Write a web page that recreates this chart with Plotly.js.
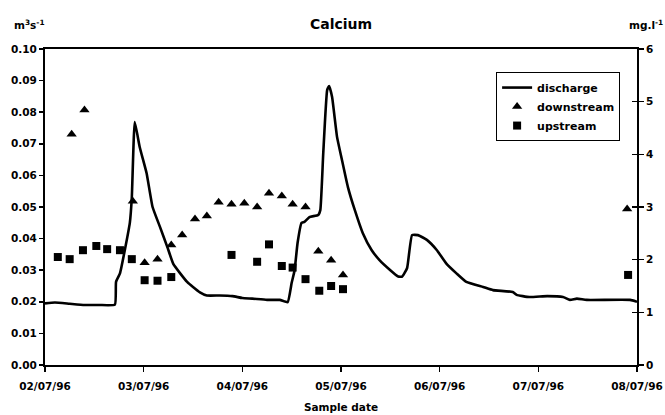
<!DOCTYPE html>
<html>
<head>
<meta charset="utf-8">
<script src="https://cdn.plot.ly/plotly-3.0.1.min.js"></script>
<style>html,body{margin:0;padding:0;background:#fff;}#chart{width:665px;height:415px;}</style>
</head>
<body>
<div id="chart"></div>
<script>
// Discharge (m3/s), left axis
const dischargeTime = [
  '1996-07-02 00:00','1996-07-02 02:24','1996-07-02 06:00','1996-07-02 09:36','1996-07-02 13:12',
  '1996-07-02 17:00','1996-07-02 17:17','1996-07-02 18:14','1996-07-02 20:38','1996-07-02 21:07',
  '1996-07-02 21:50','1996-07-02 23:02','1996-07-03 00:43','1996-07-03 02:10','1996-07-03 03:58',
  '1996-07-03 05:46','1996-07-03 07:12','1996-07-03 08:53','1996-07-03 10:34','1996-07-03 12:00',
  '1996-07-03 13:41','1996-07-03 15:22','1996-07-03 18:29','1996-07-03 21:36','1996-07-04 00:00',
  '1996-07-04 02:24','1996-07-04 06:00','1996-07-04 09:07','1996-07-04 11:02','1996-07-04 12:00',
  '1996-07-04 12:43','1996-07-04 13:26','1996-07-04 14:24','1996-07-04 15:07','1996-07-04 16:19',
  '1996-07-04 18:29','1996-07-04 18:58','1996-07-04 19:41','1996-07-04 20:38','1996-07-04 21:07',
  '1996-07-04 21:50','1996-07-04 23:02','1996-07-05 00:14','1996-07-05 01:41','1996-07-05 03:22',
  '1996-07-05 05:17','1996-07-05 07:26','1996-07-05 09:22','1996-07-05 12:00','1996-07-05 13:55',
  '1996-07-05 14:53','1996-07-05 16:05','1996-07-05 17:17','1996-07-05 18:43','1996-07-05 20:53',
  '1996-07-05 23:17','1996-07-06 01:41','1996-07-06 04:05','1996-07-06 06:29','1996-07-06 10:34',
  '1996-07-06 12:58','1996-07-06 17:46','1996-07-06 18:43','1996-07-06 21:50','1996-07-07 02:10',
  '1996-07-07 06:00','1996-07-07 07:41','1996-07-07 09:22','1996-07-07 11:46','1996-07-07 22:19',
  '1996-07-08 00:00'
];
const dischargeValue = [
  0.0195,0.0198,0.0194,0.0190,0.0190,
  0.0191,0.0263,0.0290,0.0450,0.0530,
  0.0769,0.0690,0.0607,0.0500,0.0437,
  0.0373,0.0320,0.0290,0.0263,0.0247,
  0.0230,0.0220,0.0220,0.0218,0.0212,
  0.0210,0.0206,0.0206,0.0199,0.0260,
  0.0300,0.0386,0.0450,0.0453,0.0468,
  0.0475,0.0490,0.0670,0.0870,0.0883,
  0.0848,0.0722,0.0649,0.0563,0.0490,
  0.0418,0.0364,0.0332,0.0300,0.0280,
  0.0280,0.0307,0.0411,0.0411,0.0396,
  0.0364,0.0320,0.0290,0.0263,0.0247,
  0.0237,0.0231,0.0222,0.0215,0.0218,
  0.0215,0.0206,0.0210,0.0206,0.0206,
  0.0200
];
// Downstream calcium (mg/l), right axis
const downTime = [
  '1996-07-02 06:29','1996-07-02 09:36','1996-07-02 21:22','1996-07-03 00:14','1996-07-03 03:22',
  '1996-07-03 06:43','1996-07-03 09:22','1996-07-03 12:29','1996-07-03 15:22','1996-07-03 18:14',
  '1996-07-03 21:22','1996-07-04 00:29','1996-07-04 03:36','1996-07-04 06:29','1996-07-04 09:36',
  '1996-07-04 12:14','1996-07-04 15:22','1996-07-04 18:29','1996-07-04 21:36','1996-07-05 00:29',
  '1996-07-07 21:36'
];
const downValue = [
  4.38,4.84,3.11,1.94,2.01,
  2.28,2.47,2.77,2.83,3.09,
  3.05,3.07,3.00,3.26,3.21,
  3.05,3.00,2.16,1.99,1.71,
  2.96
];
// Upstream calcium (mg/l), right axis
const upTime = [
  '1996-07-02 03:07','1996-07-02 06:00','1996-07-02 09:14','1996-07-02 12:29','1996-07-02 15:07',
  '1996-07-02 18:14','1996-07-02 21:07','1996-07-03 00:14','1996-07-03 03:22','1996-07-03 06:43',
  '1996-07-03 21:22','1996-07-04 03:36','1996-07-04 06:29','1996-07-04 09:36','1996-07-04 12:14',
  '1996-07-04 15:22','1996-07-04 18:43','1996-07-04 21:36','1996-07-05 00:29','1996-07-07 21:50'
];
const upValue = [
  2.05,2.01,2.18,2.26,2.20,
  2.18,2.01,1.61,1.60,1.67,
  2.09,1.96,2.29,1.88,1.85,
  1.63,1.41,1.50,1.44,1.71
];
const xTickVals = ['1996-07-02','1996-07-03','1996-07-04','1996-07-05','1996-07-06','1996-07-07','1996-07-08'];

const FONT = 'DejaVu Sans, Liberation Sans, Arial, sans-serif';
const BOLD = {family: FONT, size: 10.5, color: '#000', weight: 700};
const data = [
  {x: dischargeTime, y: dischargeValue, type: 'scatter', mode: 'lines', name: 'discharge',
   line: {color: '#000', width: 2.6, shape: 'spline', smoothing: 0.4}, yaxis: 'y'},
  {x: downTime, y: downValue, type: 'scatter', mode: 'markers', name: 'downstream',
   marker: {symbol: 'triangle-up', size: 9, color: '#000'}, yaxis: 'y2'},
  {x: upTime, y: upValue, type: 'scatter', mode: 'markers', name: 'upstream',
   marker: {symbol: 'square', size: 8, color: '#000'}, yaxis: 'y2'},
  // helper so the inside-tick copy of the right axis is drawn (no visible marks)
  {x: [xTickVals[0]], y: [0], type: 'scatter', mode: 'markers', marker: {opacity: 0, size: 1},
   showlegend: false, yaxis: 'y3', hoverinfo: 'skip'}
];
const layout = {
  width: 665, height: 415,
  margin: {l: 45, r: 28, t: 49, b: 50},
  paper_bgcolor: '#fff', plot_bgcolor: '#fff',
  font: BOLD,
  showlegend: true,
  title: {text: '<b>Calcium</b>', x: 0.5, xref: 'paper', xanchor: 'center', y: 0.942, yref: 'container', yanchor: 'middle',
          font: {family: FONT, size: 14, color: '#000', weight: 700}},
  xaxis: {type: 'date', range: ['1996-07-02', '1996-07-08'], tickvals: xTickVals, tickformat: '%d/%m/%y',
          ticks: 'outside', ticklen: 5, tickwidth: 1.5, tickcolor: '#000', ticklabelstandoff: 5,
          showline: true, linewidth: 2, linecolor: '#000', mirror: true, showgrid: false, zeroline: false,
          tickfont: BOLD,
          title: {text: 'Sample date', standoff: 13, font: BOLD}},
  yaxis: {range: [0, 0.1], dtick: 0.01, tickformat: '.2f', ticks: 'outside', ticklen: 4, tickwidth: 1.5,
          tickcolor: '#000', showline: true, linewidth: 2, linecolor: '#000', showgrid: false, zeroline: false,
          tickfont: BOLD},
  yaxis2: {range: [0, 6], dtick: 1, overlaying: 'y', side: 'right', anchor: 'x', ticks: 'outside', ticklen: 5,
           tickwidth: 1.5, tickcolor: '#000', showline: true, linewidth: 2, linecolor: '#000',
           showgrid: false, zeroline: false, tickfont: BOLD},
  yaxis3: {range: [0, 6], dtick: 1, overlaying: 'y', side: 'right', anchor: 'x', ticks: 'inside', ticklen: 5,
           tickwidth: 1.5, tickcolor: '#000', showline: false, showticklabels: false,
           showgrid: false, zeroline: false},
  legend: {x: 0.762, y: 0.927, xanchor: 'left', yanchor: 'top', bgcolor: '#fff',
           bordercolor: '#000', borderwidth: 1, font: {family: FONT, size: 11, color: '#000', weight: 700},
           itemwidth: 30, tracegroupgap: 0},
  annotations: [
    {text: 'm<sup>3</sup>s<sup>-1</sup>', xref: 'paper', yref: 'paper', x: -0.056, y: 1.079,
     xanchor: 'left', yanchor: 'middle', showarrow: false, font: BOLD},
    {text: 'mg.l<sup>-1</sup>', xref: 'paper', yref: 'paper', x: 1.047, y: 1.079,
     xanchor: 'right', yanchor: 'middle', showarrow: false, font: BOLD}
  ]
};
Plotly.newPlot('chart', data, layout, {staticPlot: true, displayModeBar: false});
</script>
</body>
</html>
